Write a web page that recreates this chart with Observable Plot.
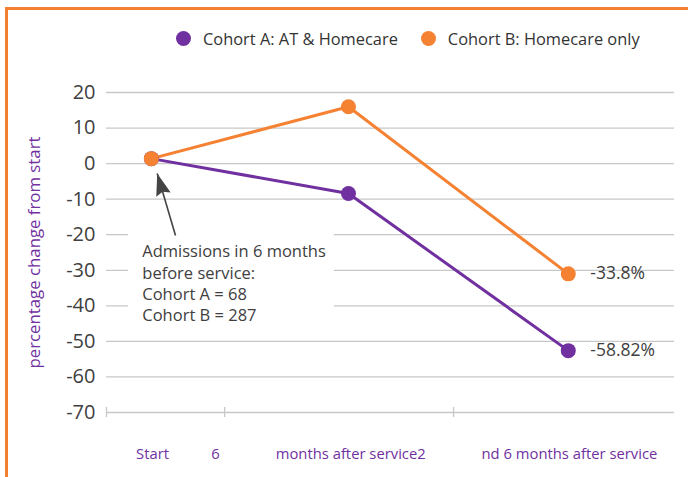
<!DOCTYPE html>
<html>
<head>
<meta charset="utf-8">
<script src="https://cdn.jsdelivr.net/npm/d3@7"></script>
<script src="https://cdn.jsdelivr.net/npm/@observablehq/plot@0.6"></script>
<style>
  body { margin: 0; background: #fff; font-family: "Open Sans", sans-serif; }
  #wrap { position: relative; width: 688px; height: 477px; overflow: hidden; }
  #chart { position: absolute; left: 0; top: 0; }
  #frame { position: absolute; left: 5px; top: 7px; right: -5px; bottom: -5px;
           border-left: 3px solid #F47F31; border-top: 3px solid #F47F31; pointer-events: none; }
  #legend { position: absolute; top: 27px; left: 176px; display: flex; align-items: center;
            font-size: 16.4px; color: #333; white-space: nowrap; }
  .item { display: flex; align-items: center; }
  .sw { width: 15px; height: 15px; border-radius: 50%; margin-right: 12px; }
</style>
</head>
<body>
<div id="wrap">
  <div id="chart"></div>
  <div id="legend"></div>
  <div id="frame"></div>
</div>
<script>
// ---- data ----
const categories = ["Start", "6 months after service", "2nd 6 months after service"];
const categoryPos = [0.79, 4.26, 8.13];          // slot positions along the category axis
const seriesNames = ["Cohort A: AT & Homecare", "Cohort B: Homecare only"];
const seriesColors = ["#7030A0", "#F58233"];
const cohortA = [1.4, -8.4, -52.6];
const cohortB = [1.4, 16.0, -31.0];
const endLabels = ["-58.82%", "-33.8%"];
const xTickLabels = ["Start", "6", "months after service2", "nd 6 months after service"];
const xTickLabelPos = [0.81, 1.92, 4.30, 8.15];
const xTickMarks = [0, 2.08, 6.11];
const yTicks = [20, 10, 0, -10, -20, -30, -40, -50, -60, -70];
const yLabel = "percentage change from start";
const noteText = "Admissions in 6 months\nbefore service:\nCohort A = 68\nCohort B = 287";
const notePos = {x: 0.63, y: -22.0};
const noteBox = {x1: 0.39, x2: 4.01, y1: -17.5, y2: -44};
const arrowTail = {x: 1.215, y: -20.2};
const arrowTip = {x: 0.893, y: -2.8};

// ---- build table ----
const rows = [];
[cohortA, cohortB].forEach((vals, s) => {
  vals.forEach((v, i) => rows.push({series: seriesNames[s], cat: categories[i], x: categoryPos[i], y: v}));
});
const ends = [
  {series: seriesNames[0], x: categoryPos[2], y: cohortA[2], label: endLabels[0]},
  {series: seriesNames[1], x: categoryPos[2], y: cohortB[2], label: endLabels[1]}
];

const headSymbol = {
  draw(ctx) {
    ctx.moveTo(0, 0);
    ctx.lineTo(-7.5, 22);
    ctx.lineTo(0, 19);
    ctx.lineTo(7.5, 22);
    ctx.closePath();
  }
};

const chart = Plot.plot({
  width: 688,
  height: 477,
  marginTop: 92,
  marginBottom: 65,
  marginLeft: 106,
  marginRight: 14,
  style: {fontFamily: "Open Sans, sans-serif", background: "transparent"},
  x: {domain: [0, 10], axis: null},
  y: {domain: [-70, 20], axis: null},
  color: {domain: seriesNames, range: seriesColors},
  marks: [
    Plot.ruleY(yTicks, {stroke: "#c8c8c8", strokeWidth: 1.3}),
    Plot.ruleX(xTickMarks, {y1: -68.6, y2: -71.4, stroke: "#c8c8c8", strokeWidth: 1.3}),
    Plot.rect([noteBox], {x1: "x1", x2: "x2", y1: "y1", y2: "y2", fill: "white"}),
    Plot.axisY({ticks: yTicks, tickSize: 0, tickPadding: 11, fontSize: 20, fill: "#404040", label: null,
      tickFormat: d => String(d)}),
    Plot.text([yLabel], {frameAnchor: "left", dx: -72, rotate: -90, textAnchor: "middle",
      fontSize: 16.8, fill: "#7030A0"}),
    Plot.text(xTickLabels, {x: (d, i) => xTickLabelPos[i], frameAnchor: "bottom", dy: 46,
      fontSize: 14.8, fill: "#7030A0"}),
    Plot.line(rows, {x: "x", y: "y", z: "series", stroke: "series", strokeWidth: 3}),
    Plot.dot(rows, {x: "x", y: "y", fill: "series", r: 7.5}),
    Plot.text(ends, {x: "x", y: "y", text: "label", dx: 22, textAnchor: "start", fontSize: 17.5, fill: "#404040"}),
    Plot.link([{x1: arrowTail.x, y1: arrowTail.y, x2: arrowTip.x, y2: arrowTip.y}],
      {x1: "x1", y1: "y1", x2: "x2", y2: "y2", stroke: "#444", strokeWidth: 1.6}),
    Plot.dot([arrowTip], {x: "x", y: "y", symbol: headSymbol, r: 5, fill: "#444", stroke: "none", rotate: -16.5}),
    Plot.text([noteText], {x: notePos.x, y: notePos.y, textAnchor: "start", lineAnchor: "top",
      lineHeight: 1.3, fontSize: 16.5, fill: "#404040"})
  ]
});
document.getElementById("chart").appendChild(chart);

const legend = document.getElementById("legend");
seriesNames.forEach((name, i) => {
  const it = document.createElement("div");
  it.className = "item";
  it.style.marginRight = i === 0 ? "23px" : "0";
  const sw = document.createElement("span");
  sw.className = "sw";
  sw.style.background = seriesColors[i];
  const tx = document.createElement("span");
  tx.textContent = name;
  it.appendChild(sw); it.appendChild(tx);
  legend.appendChild(it);
});
</script>
</body>
</html>
